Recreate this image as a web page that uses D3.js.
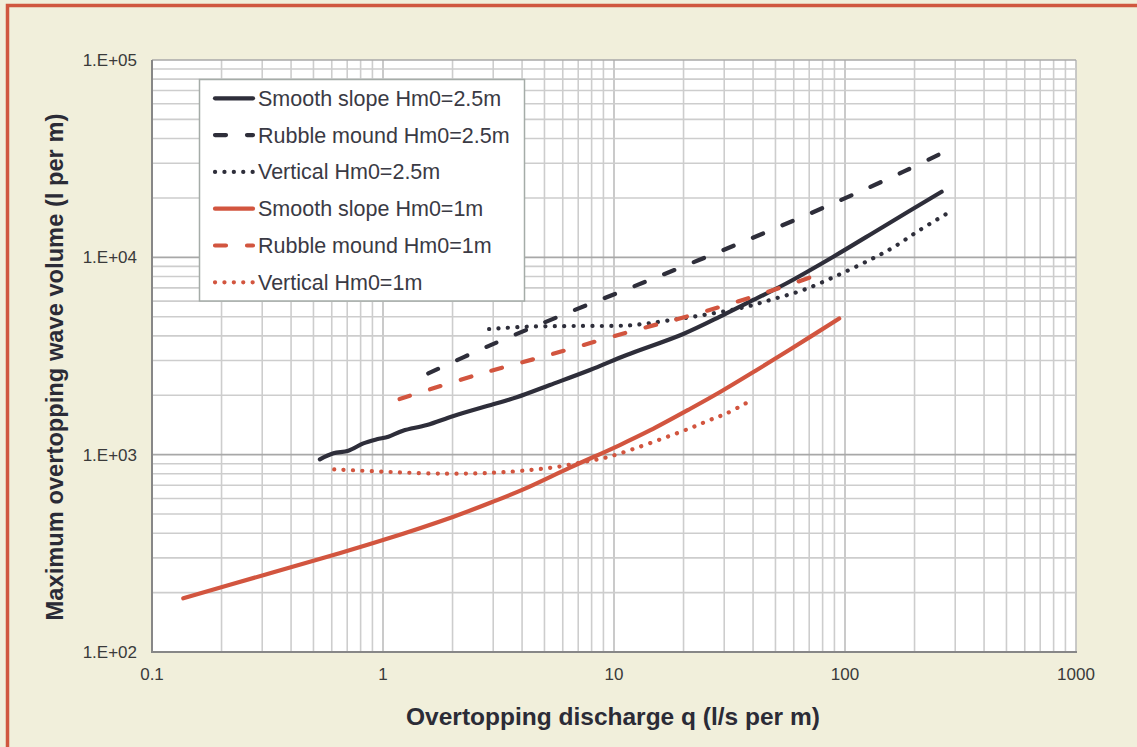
<!DOCTYPE html>
<html>
<head>
<meta charset="utf-8">
<script src="https://cdn.jsdelivr.net/npm/d3@7"></script>
<style>
html,body{margin:0;padding:0;background:#f1efdb;}
svg{display:block;font-family:"Liberation Sans",Arial,sans-serif;}
</style>
</head>
<body>
<svg id="chart" width="1137" height="747"></svg>
<script>
// ---- data (q in l/s per m, V in l per m) ----
const smooth25Q = [0.533,0.61,0.708,0.822,0.94,1.055,1.22,1.55,2.02,3.0,3.79,5.28,7.87,11.35,19.95,29.7,40.1,55.9,89,146.5,262];
const smooth25V = [947,1016,1047,1141,1196,1233,1322,1413,1570,1800,1953,2254,2685,3199,4088,5100,6080,7390,10070,14300,21500];
const rubble25Q = [1.57,2.81,5.83,14.3,35.7,87.5,182,285];
const rubble25V = [2580,3520,5040,7680,11900,18600,27400,35400];
const vert25Q = [2.88,4.19,6.67,11.7,16.9,26.9,37.5,49,66,92,128,162,211,285];
const vert25V = [4333,4450,4487,4525,4775,5203,5623,6150,6830,8070,9700,11240,13760,17030];
const smooth1Q = [0.1366,0.303,0.61,1.0,2.02,3.0,4.05,6.45,10.6,14.3,21.3,28.8,41.5,57.8,94.4];
const smooth1V = [187,245,310,369,485,578,667,860,1119,1326,1704,2077,2685,3412,4898];
const rubble1Q = [1.18,2.54,5.55,11.7,22.4,42.1,78];
const rubble1V = [1914,2534,3264,4200,5146,6445,8230];
const vert1Q = [0.615,1.07,1.89,3.0,4.33,5.74,7.49,9.78,21.3,26.0,30.8,39.4];
const vert1V = [843,817,801,810,836,869,921,985,1360,1499,1621,1892];

const seriesNames = ["Smooth slope Hm0=2.5m","Rubble mound Hm0=2.5m","Vertical Hm0=2.5m","Smooth slope Hm0=1m","Rubble mound Hm0=1m","Vertical Hm0=1m"];
const xTickValues = [0.1,1,10,100,1000];
const xTickLabels = ["0.1","1","10","100","1000"];
const yTickValues = [100,1000,10000,100000];
const yTickLabels = ["1.E+02","1.E+03","1.E+04","1.E+05"];
const xTitle = "Overtopping discharge q (l/s per m)";
const yTitle = "Maximum overtopping wave volume (l per m)";

// ---- styles ----
const DARK = "#2e2e3a", RED = "#d2553f";
const styles = [
  {color:DARK, dash:null, w:4.2},
  {color:DARK, dash:"11,21", w:4.2},
  {color:DARK, dash:"0.1,9.3", w:4.2},
  {color:RED, dash:null, w:4.2},
  {color:RED, dash:"11,21", w:4.2},
  {color:RED, dash:"0.1,9.3", w:4.2}
];
const seriesQ = [smooth25Q,rubble25Q,vert25Q,smooth1Q,rubble1Q,vert1Q];
const seriesV = [smooth25V,rubble25V,vert25V,smooth1V,rubble1V,vert1V];

const svg = d3.select("#chart");
// outer border
svg.append("rect").attr("x",7.5).attr("y",5.5).attr("width",1300).attr("height",900)
  .attr("fill","#f1efdb").attr("stroke","#d0573f").attr("stroke-width",3.5);

const L=152,R=1076,T=60,B=652;
const x = d3.scaleLog().domain([0.1,1000]).range([L,R]);
const y = d3.scaleLog().domain([100,100000]).range([B,T]);

svg.append("rect").attr("x",L).attr("y",T).attr("width",R-L).attr("height",B-T).attr("fill","#fff");

const g = svg.append("g");
// gridlines
const xg = x.ticks();
const yg = y.ticks();
const isMajor = v => Math.abs(Math.log10(v) - Math.round(Math.log10(v))) < 1e-9;
g.selectAll(".vg").data(xg).join("line")
  .attr("x1",d=>x(d)).attr("x2",d=>x(d)).attr("y1",T).attr("y2",B)
  .attr("stroke",d=>isMajor(d)?"#bdbdbd":"#cdcdcd").attr("stroke-width",1.6);
g.selectAll(".hg").data(yg).join("line")
  .attr("x1",L).attr("x2",R).attr("y1",d=>y(d)).attr("y2",d=>y(d))
  .attr("stroke",d=>isMajor(d)?"#a8a8a8":"#cdcdcd").attr("stroke-width",1.6);

// axes lines
svg.append("line").attr("x1",L).attr("x2",L).attr("y1",T).attr("y2",B+1).attr("stroke","#878787").attr("stroke-width",2);
svg.append("line").attr("x1",L-1).attr("x2",R+1).attr("y1",B).attr("y2",B).attr("stroke","#878787").attr("stroke-width",2);

// tick labels
svg.selectAll(".xl").data(xTickValues).join("text")
  .attr("x",d=>x(d)).attr("y",B+27.5).attr("text-anchor","middle")
  .attr("font-size",17).attr("fill","#3a3a3a").text((d,i)=>xTickLabels[i]);
svg.selectAll(".yl").data(yTickValues).join("text")
  .attr("x",L-15).attr("y",d=>y(d)+6).attr("text-anchor","end")
  .attr("font-size",17).attr("fill","#3a3a3a").text((d,i)=>yTickLabels[i]);

// axis titles
svg.append("text").attr("x",613).attr("y",724.5).attr("text-anchor","middle")
  .attr("font-size",24.5).attr("font-weight","bold").attr("fill","#2b2b36").text(xTitle);
svg.append("text").attr("transform","translate(62.5,367) rotate(-90)").attr("text-anchor","middle")
  .attr("font-size",23.7).attr("font-weight","bold").attr("fill","#2b2b36").text(yTitle);

// lines
const line = d3.line().x(d=>x(d[0])).y(d=>y(d[1])).curve(d3.curveCatmullRom.alpha(0.5));
seriesQ.forEach((qs,i)=>{
  const pts = qs.map((q,j)=>[q,seriesV[i][j]]);
  const s = styles[i];
  svg.append("path").attr("d",line(pts)).attr("fill","none")
    .attr("stroke",s.color).attr("stroke-width",s.w)
    .attr("stroke-linecap","round").attr("stroke-linejoin","round")
    .attr("stroke-dasharray",s.dash);
});

// legend
const lg = svg.append("g");
lg.append("rect").attr("x",199.5).attr("y",79.5).attr("width",325).attr("height",221.5)
  .attr("fill","#fff").attr("stroke","#a5aca8").attr("stroke-width",1.5);
seriesNames.forEach((name,i)=>{
  const cy = 98.3 + i*36.8;
  const s = styles[i];
  lg.append("line").attr("x1",215).attr("x2",253).attr("y1",cy).attr("y2",cy)
    .attr("stroke",s.color).attr("stroke-width",s.w).attr("stroke-linecap","round")
    .attr("stroke-dasharray",s.dash);
  lg.append("text").attr("x",258).attr("y",cy+7.5).attr("font-size",21.5)
    .attr("fill","#3a3a44").text(name);
});
</script>
</body>
</html>
